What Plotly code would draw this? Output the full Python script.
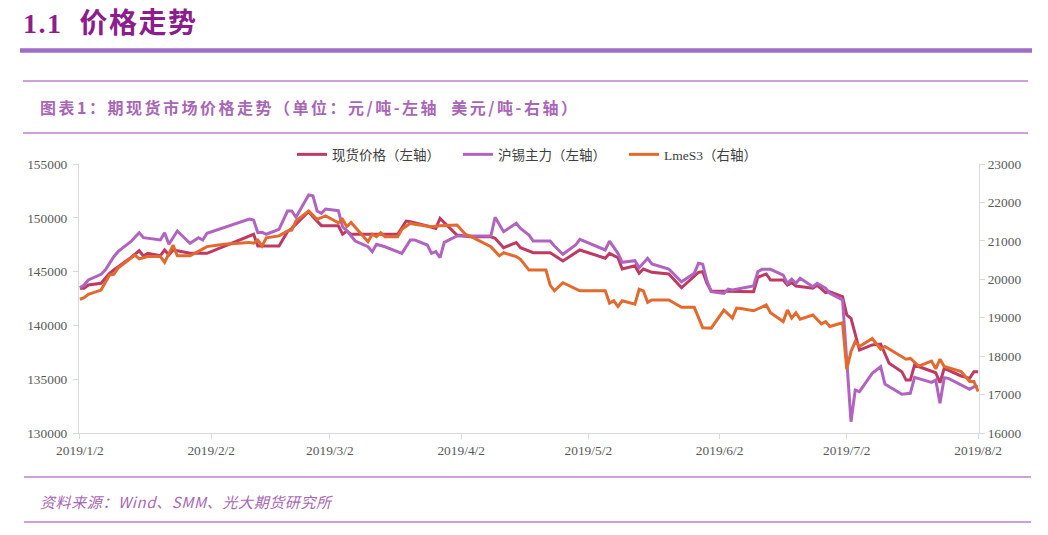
import plotly.graph_objects as go

# ---------------- data ----------------
spot_dates = ["01-02","01-03","01-04","01-07","01-09","01-10","01-14","01-16","01-17","01-18",
              "01-21","01-22","01-23","01-24","01-28","02-01","02-12","02-13","02-18","02-20",
              "02-21","02-25","02-26","02-28","03-04","03-05","03-06","03-07","03-12","03-18",
              "03-20","03-21","03-25","03-27","03-28","04-01","04-04","04-09","04-10","04-12",
              "04-15","04-16","04-19","04-23","04-26","04-30","05-06","05-07","05-09","05-10",
              "05-13","05-14","05-15","05-17","05-21","05-24","05-28","05-29","05-30","05-31",
              "06-10","06-11","06-13","06-14","06-17","06-18","06-19","06-20","06-24","06-25",
              "06-27","06-28","07-01","07-02","07-03","07-05","07-08","07-10","07-12","07-15",
              "07-16","07-17","07-18","07-22","07-23","07-24","07-25","07-29","07-31","08-01",
              "08-02"]
spot_values = [143450,143450,143750,143910,144840,145150,146290,146940,146450,146700,
               146480,147010,146540,147010,146700,146700,148470,147380,147380,148710,
               149020,150590,150100,149270,149270,148470,148770,148470,148470,148470,
               149700,149640,149240,149020,149950,148400,148240,148240,148090,147220,
               147690,147220,146760,146760,145990,147010,146240,146700,146290,145240,
               145550,144840,145240,144930,144780,143500,144930,144990,143910,143200,
               143130,144470,144780,144220,144220,143750,143970,143660,143450,143750,
               143040,143130,142670,140970,140660,137710,138180,138270,136480,135700,
               134920,134920,136320,135700,135600,134670,136010,135300,135080,135700,
               135700]

shfe_dates = ["01-02","01-03","01-04","01-07","01-08","01-10","01-11","01-14","01-16","01-17",
              "01-21","01-22","01-23","01-25","01-28","01-30","01-31","02-01","02-11","02-12",
              "02-13","02-14","02-15","02-18","02-20","02-21","02-22","02-25","02-26","02-27",
              "02-28","03-01","03-04","03-05","03-06","03-08","03-11","03-12","03-13","03-15",
              "03-19","03-21","03-22","03-25","03-26","03-27","03-28","03-29","04-01","04-09",
              "04-10","04-12","04-15","04-16","04-18","04-19","04-23","04-24","04-26","04-29",
              "04-30","05-06","05-07","05-09","05-10","05-13","05-14","05-16","05-17","05-21",
              "05-24","05-27","05-28","05-29","05-30","05-31","06-03","06-04","06-05","06-10",
              "06-11","06-12","06-14","06-17","06-18","06-19","06-20","06-21","06-24","06-25",
              "06-27","06-28","07-01","07-03","07-04","07-05","07-08","07-10","07-11","07-15",
              "07-17","07-18","07-22","07-23","07-24","07-25","07-26","07-29","07-31","08-01",
              "08-02"]
shfe_values = [143500,143750,144220,144750,145150,146380,146850,147780,148610,148150,
               147940,148610,147540,148770,147630,148150,147940,148560,149890,149800,
               148610,148650,148470,148930,150630,150630,150050,152120,152050,150630,
               150420,150820,150660,149170,148800,147840,147310,146850,147540,147310,
               146700,147940,147940,147470,146700,146850,146290,147720,148310,148310,
               150050,148710,149490,149020,148400,147840,147840,147380,146610,147470,
               148000,147010,147840,146700,145860,146010,145360,146240,145710,145240,
               144060,144840,145770,145680,144150,143130,142980,143380,143290,143660,
               144990,145210,145210,144680,143910,144310,143910,144380,143600,143910,
               143450,142980,142360,131050,133990,133840,135550,136160,134550,133600,
               133690,135180,134710,134920,132760,135140,135080,134460,134060,134300,
               134300]

lme_dates = ["01-02","01-03","01-04","01-07","01-09","01-10","01-11","01-15","01-16","01-18",
             "01-21","01-22","01-24","01-25","01-28","02-01","02-05","02-11","02-12","02-13",
             "02-14","02-15","02-18","02-20","02-21","02-22","02-25","02-27","03-01","03-04",
             "03-05","03-06","03-07","03-11","03-12","03-13","03-14","03-15","03-18","03-19",
             "03-21","03-22","03-26","03-28","04-01","04-03","04-04","04-08","04-09","04-11",
             "04-12","04-15","04-16","04-18","04-22","04-23","04-24","04-26","04-30","05-06",
             "05-07","05-08","05-09","05-10","05-13","05-14","05-15","05-16","05-17","05-21",
             "05-24","05-27","05-29","05-31","06-03","06-05","06-06","06-07","06-10","06-13",
             "06-14","06-17","06-18","06-19","06-20","06-21","06-24","06-26","06-27","06-28",
             "07-01","07-02","07-03","07-04","07-05","07-08","07-10","07-11","07-16","07-17",
             "07-19","07-22","07-23","07-24","07-25","07-29","07-31","08-01","08-02"]
lme_values = [19480,19520,19610,19720,20110,20130,20290,20630,20530,20590,
              20590,20440,20890,20610,20610,20850,20910,20960,20940,21020,
              20870,21080,21130,21260,21280,21520,21780,21560,21650,21470,
              21560,21370,21480,20980,21170,21110,21210,21110,21110,21300,
              21460,21430,21370,21390,21410,21170,21130,20910,20850,20610,
              20690,20590,20520,20240,20240,19850,19700,19910,19700,19700,
              19380,19440,19290,19440,19350,19740,19700,19400,19460,19460,
              19270,19270,18740,18730,19200,18990,19250,19240,19180,19330,
              19130,18900,19200,18990,19130,18960,19070,18840,18900,18770,
              18870,17660,18120,18380,18250,18460,18180,18250,17920,17940,
              17740,17870,17670,17920,17730,17600,17340,17340,17080]

series_names = ["现货价格（左轴）", "沪锡主力（左轴）", "LmeS3（右轴）"]
tick_dates = ["2019-01-02","2019-02-02","2019-03-02","2019-04-02",
              "2019-05-02","2019-06-02","2019-07-02","2019-08-02"]
tick_labels = ["2019/1/2","2019/2/2","2019/3/2","2019/4/2",
               "2019/5/2","2019/6/2","2019/7/2","2019/8/2"]

# ---------------- figure ----------------
def full(ds):
    return ["2019-" + d for d in ds]

C_SPOT = "#BE3A62"
C_SHFE = "#B064C0"
C_LME = "#E26A2E"
PURPLE_LINE = "#BC82C8"

fig = go.Figure()
fig.add_trace(go.Scatter(x=full(spot_dates), y=spot_values, name=series_names[0],
                         mode="lines", line=dict(color=C_SPOT, width=3)))
fig.add_trace(go.Scatter(x=full(shfe_dates), y=shfe_values, name=series_names[1],
                         mode="lines", line=dict(color=C_SHFE, width=3)))
fig.add_trace(go.Scatter(x=full(lme_dates), y=lme_values, name=series_names[2],
                         mode="lines", line=dict(color=C_LME, width=3), yaxis="y2"))

tickfont = dict(family="Liberation Serif, Times New Roman, serif", size=13.4, color="#595959")
axis_common = dict(showgrid=False, zeroline=False, showline=True, linecolor="#D9D9D9",
                   linewidth=1, ticks="outside", ticklen=5, tickcolor="#D9D9D9",
                   tickfont=tickfont)

# page body has an 8px default margin, so the figure is 8px smaller than the window
OFF = 8
fig.update_layout(
    width=1048 - OFF, height=535 - OFF,
    margin=dict(l=79 - OFF, r=69, t=164 - OFF, b=102),
    paper_bgcolor="white", plot_bgcolor="white",
    showlegend=True,
    legend=dict(orientation="h", x=(292 - 79) / 900.0, xanchor="left", y=1.035, yanchor="middle",
                font=dict(family="Liberation Serif, Noto Sans CJK SC", size=13.5, color="#404040"),
                bgcolor="rgba(0,0,0,0)", itemwidth=30, traceorder="normal",
                entrywidth=121, entrywidthmode="pixels"),
    xaxis=dict(type="date", range=["2019-01-01 19:00", "2019-08-02 05:00"],
               tickvals=tick_dates, ticktext=tick_labels, **axis_common),
    yaxis=dict(range=[130000, 155000], dtick=5000, tickformat="d",
               ticklabelstandoff=3, **axis_common),
    yaxis2=dict(range=[16000, 23000], dtick=1000, tickformat="d", overlaying="y",
                side="right", **axis_common),
)

def px_x(p):
    return (p - 79) / 900.0

def px_y(p):
    return (433 - p) / 269.0

shapes = [
    dict(type="line", xref="paper", yref="paper", x0=px_x(20), x1=px_x(1032),
         y0=px_y(50.5), y1=px_y(50.5), line=dict(color="#9E6EC6", width=4.5)),
    dict(type="line", xref="paper", yref="paper", x0=px_x(23), x1=px_x(1028),
         y0=px_y(81), y1=px_y(81), line=dict(color=PURPLE_LINE, width=1.5)),
    dict(type="line", xref="paper", yref="paper", x0=px_x(23), x1=px_x(1028),
         y0=px_y(133), y1=px_y(133), line=dict(color=PURPLE_LINE, width=1.5)),
    dict(type="line", xref="paper", yref="paper", x0=px_x(24), x1=px_x(1031),
         y0=px_y(477), y1=px_y(477), line=dict(color=PURPLE_LINE, width=1.5)),
    dict(type="line", xref="paper", yref="paper", x0=px_x(24), x1=px_x(1031),
         y0=px_y(522), y1=px_y(522), line=dict(color=PURPLE_LINE, width=1.5)),
]
fig.update_layout(shapes=shapes)

fig.add_annotation(xref="paper", yref="paper", x=px_x(21), y=px_y(23),
                   xanchor="left", yanchor="middle", showarrow=False,
                   text="<span style='letter-spacing:1.5px'><b>1.1  价格走势</b></span>",
                   font=dict(family="Liberation Serif, Noto Sans CJK SC", size=28, color="#8C1D8C"))
fig.add_annotation(xref="paper", yref="paper", x=px_x(38), y=px_y(107),
                   xanchor="left", yanchor="middle", showarrow=False,
                   text="<span style='letter-spacing:2.5px'><b>图表1：期现货市场价格走势（单位：元/吨-左轴  美元/吨-右轴）</b></span>",
                   font=dict(family="Noto Sans CJK SC", size=16, color="#A867B6"))
fig.add_annotation(xref="paper", yref="paper", x=px_x(38), y=px_y(501),
                   xanchor="left", yanchor="middle", showarrow=False,
                   text="<span style='letter-spacing:0.6px'><i>资料来源：Wind、SMM、光大期货研究所</i></span>",
                   font=dict(family="Noto Sans CJK SC", size=15, color="#A867B6"))

fig.write_html("out.html")
